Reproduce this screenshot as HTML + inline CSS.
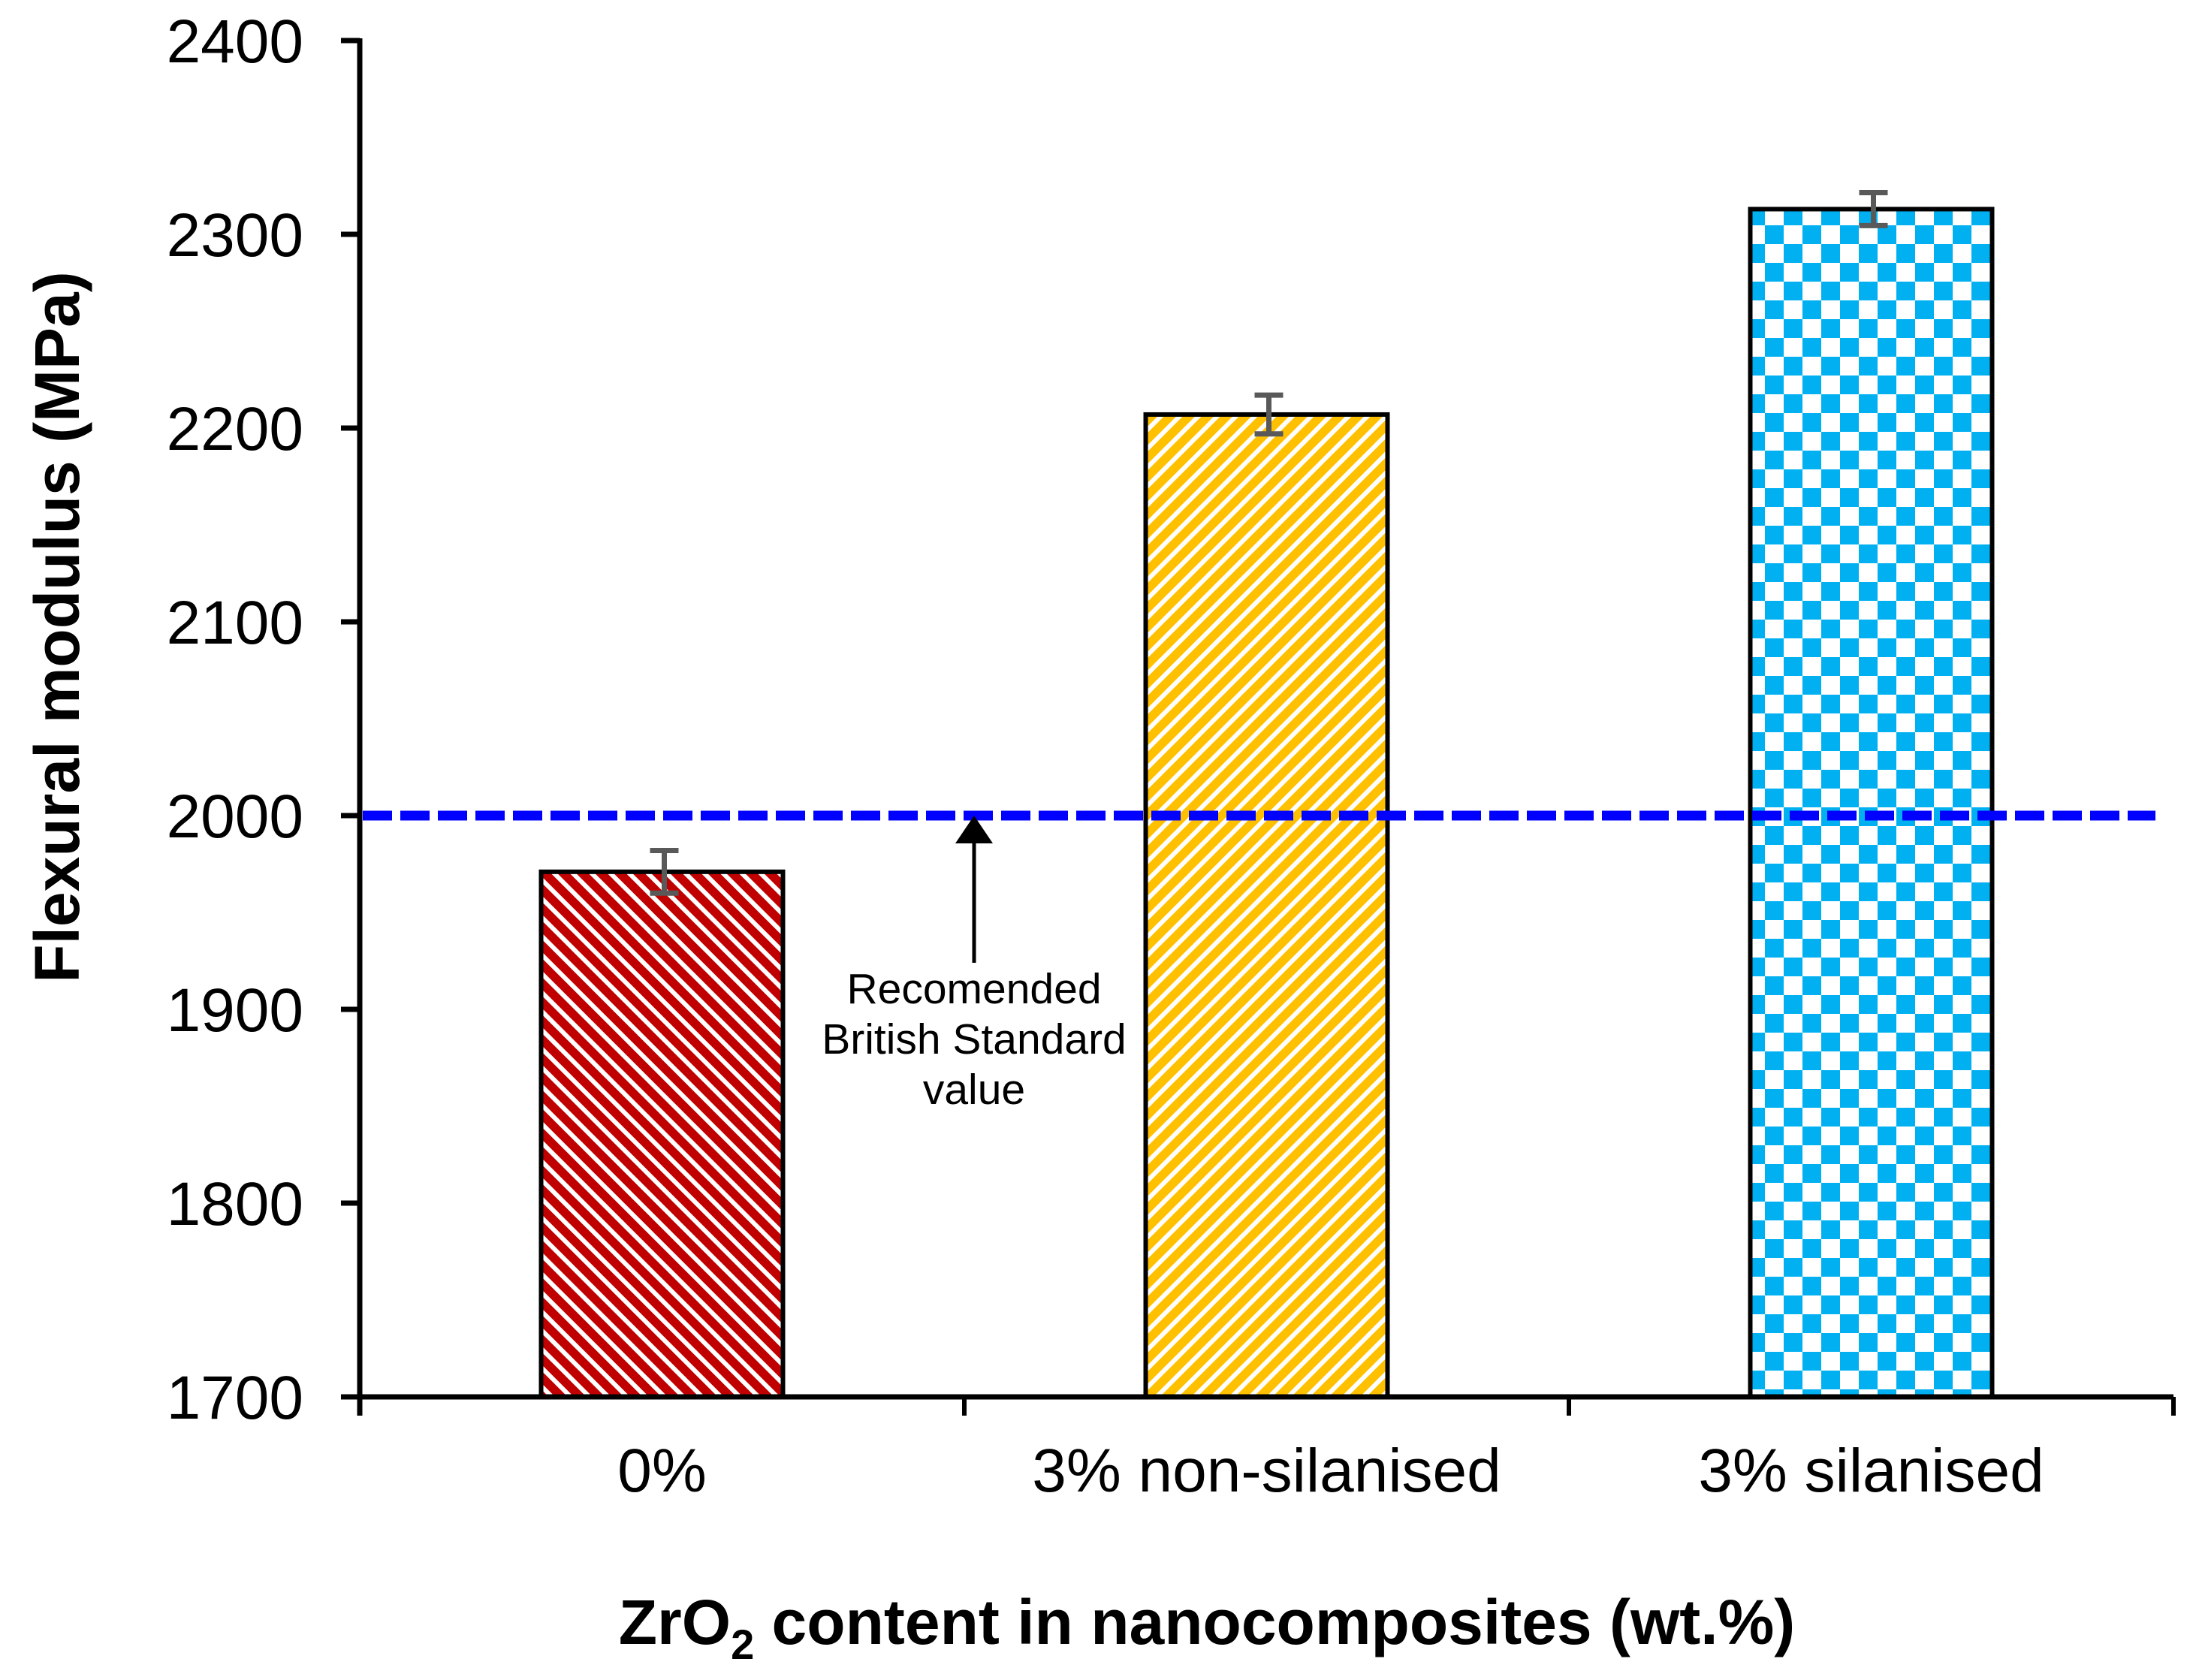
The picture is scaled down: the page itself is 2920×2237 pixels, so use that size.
<!DOCTYPE html>
<html><head><meta charset="utf-8"><style>
html,body{margin:0;padding:0;background:#fff;}
svg{display:block;font-family:"Liberation Sans",Arial,sans-serif;}
</style></head><body>
<svg id="chart" width="2920" height="2237" viewBox="0 0 2920 2237" xmlns="http://www.w3.org/2000/svg">
<defs>
<pattern id="pRed" patternUnits="userSpaceOnUse" width="25" height="25">
<rect width="25" height="25" fill="#c00000"/>
<path d="M-5,-5 L30,30 M-30,-5 L5,30 M20,-5 L55,30" stroke="#fff" stroke-width="6"/>
</pattern>
<pattern id="pYel" patternUnits="userSpaceOnUse" width="25" height="25">
<rect width="25" height="25" fill="#ffc000"/>
<path d="M-5,30 L30,-5 M-30,30 L5,-5 M20,30 L55,-5" stroke="#fff" stroke-width="6"/>
</pattern>
<pattern id="pBlue" patternUnits="userSpaceOnUse" width="50" height="50">
<rect width="50" height="50" fill="#fff"/>
<rect x="0" y="0" width="25" height="25" fill="#00b0f0"/>
<rect x="25" y="25" width="25" height="25" fill="#00b0f0"/>
</pattern>
</defs>
<g id="plot"></g>
<text x="1607" y="2189" font-size="84" font-weight="bold" text-anchor="middle">ZrO<tspan font-size="56" dy="20">2</tspan><tspan dy="-20"> content in nanocomposites (wt.%)</tspan></text>
<text transform="translate(105,835) rotate(-90)" font-size="84" font-weight="bold" text-anchor="middle">Flexural modulus (MPa)</text>
<g>
<line x1="1297" y1="1282" x2="1297" y2="1118" stroke="#000" stroke-width="5"/>
<polygon points="1297,1086 1272,1123 1322,1123" fill="#000"/>
<text x="1297" y="1336" font-size="57" text-anchor="middle">Recomended</text>
<text x="1297" y="1403" font-size="57" text-anchor="middle">British Standard</text>
<text x="1297" y="1470" font-size="57" text-anchor="middle">value</text>
</g>
</svg>
<script>
const categories = ["0%", "3% non-silanised", "3% silanised"];
const values = [1971, 2207, 2313];
const errors = [11, 10, 8.5];
const yTicks = [1700, 1800, 1900, 2000, 2100, 2200, 2300, 2400];
const referenceValue = [2000];
const fills = ["url(#pRed)", "url(#pYel)", "url(#pBlue)"];

const NS = "http://www.w3.org/2000/svg";
const x0 = 479, catW = 805, yMin = 1700, yMax = 2400, yTop = 54, yBot = 1860;
function yS(v){ return yBot - (v - yMin) / (yMax - yMin) * (yBot - yTop); }
function xC(i){ return x0 + catW * (i + 0.5); }
const g = document.getElementById("plot");
function mk(tag, attrs){ const e = document.createElementNS(NS, tag); for (const k in attrs) e.setAttribute(k, attrs[k]); g.appendChild(e); return e; }

// bars
values.forEach((v, i) => {
  const bw = 322, x = xC(i) - bw / 2, y = yS(v);
  const r = mk("rect", {x: x, y: y, width: bw, height: yBot - y, fill: fills[i], stroke: "#000", "stroke-width": 6});
  
  
});
// reference line
const ref = mk("line", {x1: 483, x2: 2870, y1: yS(referenceValue[0]), y2: yS(referenceValue[0]), stroke: "#0000ff", "stroke-width": 13, "stroke-dasharray": "39 11"});


// error bars
values.forEach((v, i) => {
  const xc = xC(i) + 3, yt = yS(v + errors[i]), yb = yS(v - errors[i]);
  const p = mk("path", {d: `M${xc},${yt} V${yb} M${xc-19},${yt} H${xc+19} M${xc-19},${yb} H${xc+19}`, stroke: "#595959", "stroke-width": 7, fill: "none"});
  
  
});
// axes
const ya = mk("line", {x1: x0, x2: x0, y1: yTop - 3, y2: yBot + 25, stroke: "#000", "stroke-width": 7});


const xa = mk("line", {x1: x0 - 25, x2: x0 + catW * 3, y1: yBot, y2: yBot, stroke: "#000", "stroke-width": 7});


yTicks.forEach(t => {
  const y = yS(t);
  const tl = mk("line", {x1: x0 - 25, x2: x0, y1: y, y2: y, stroke: "#000", "stroke-width": 7});
  
  
  const tx = mk("text", {x: 404, y: y + 29, "font-size": 82, "text-anchor": "end"});
  tx.textContent = t;
  
  
});
for (let i = 0; i <= categories.length; i++) {
  const xt = x0 + catW * i;
  const tk = mk("line", {x1: xt, x2: xt, y1: yBot, y2: yBot + 25, stroke: "#000", "stroke-width": 6});
  
  
}
categories.forEach((c, i) => {
  const tx = mk("text", {x: xC(i), y: 1986, "font-size": 82, "text-anchor": "middle"});
  tx.textContent = c;
  
  
});
</script>
</body></html>
